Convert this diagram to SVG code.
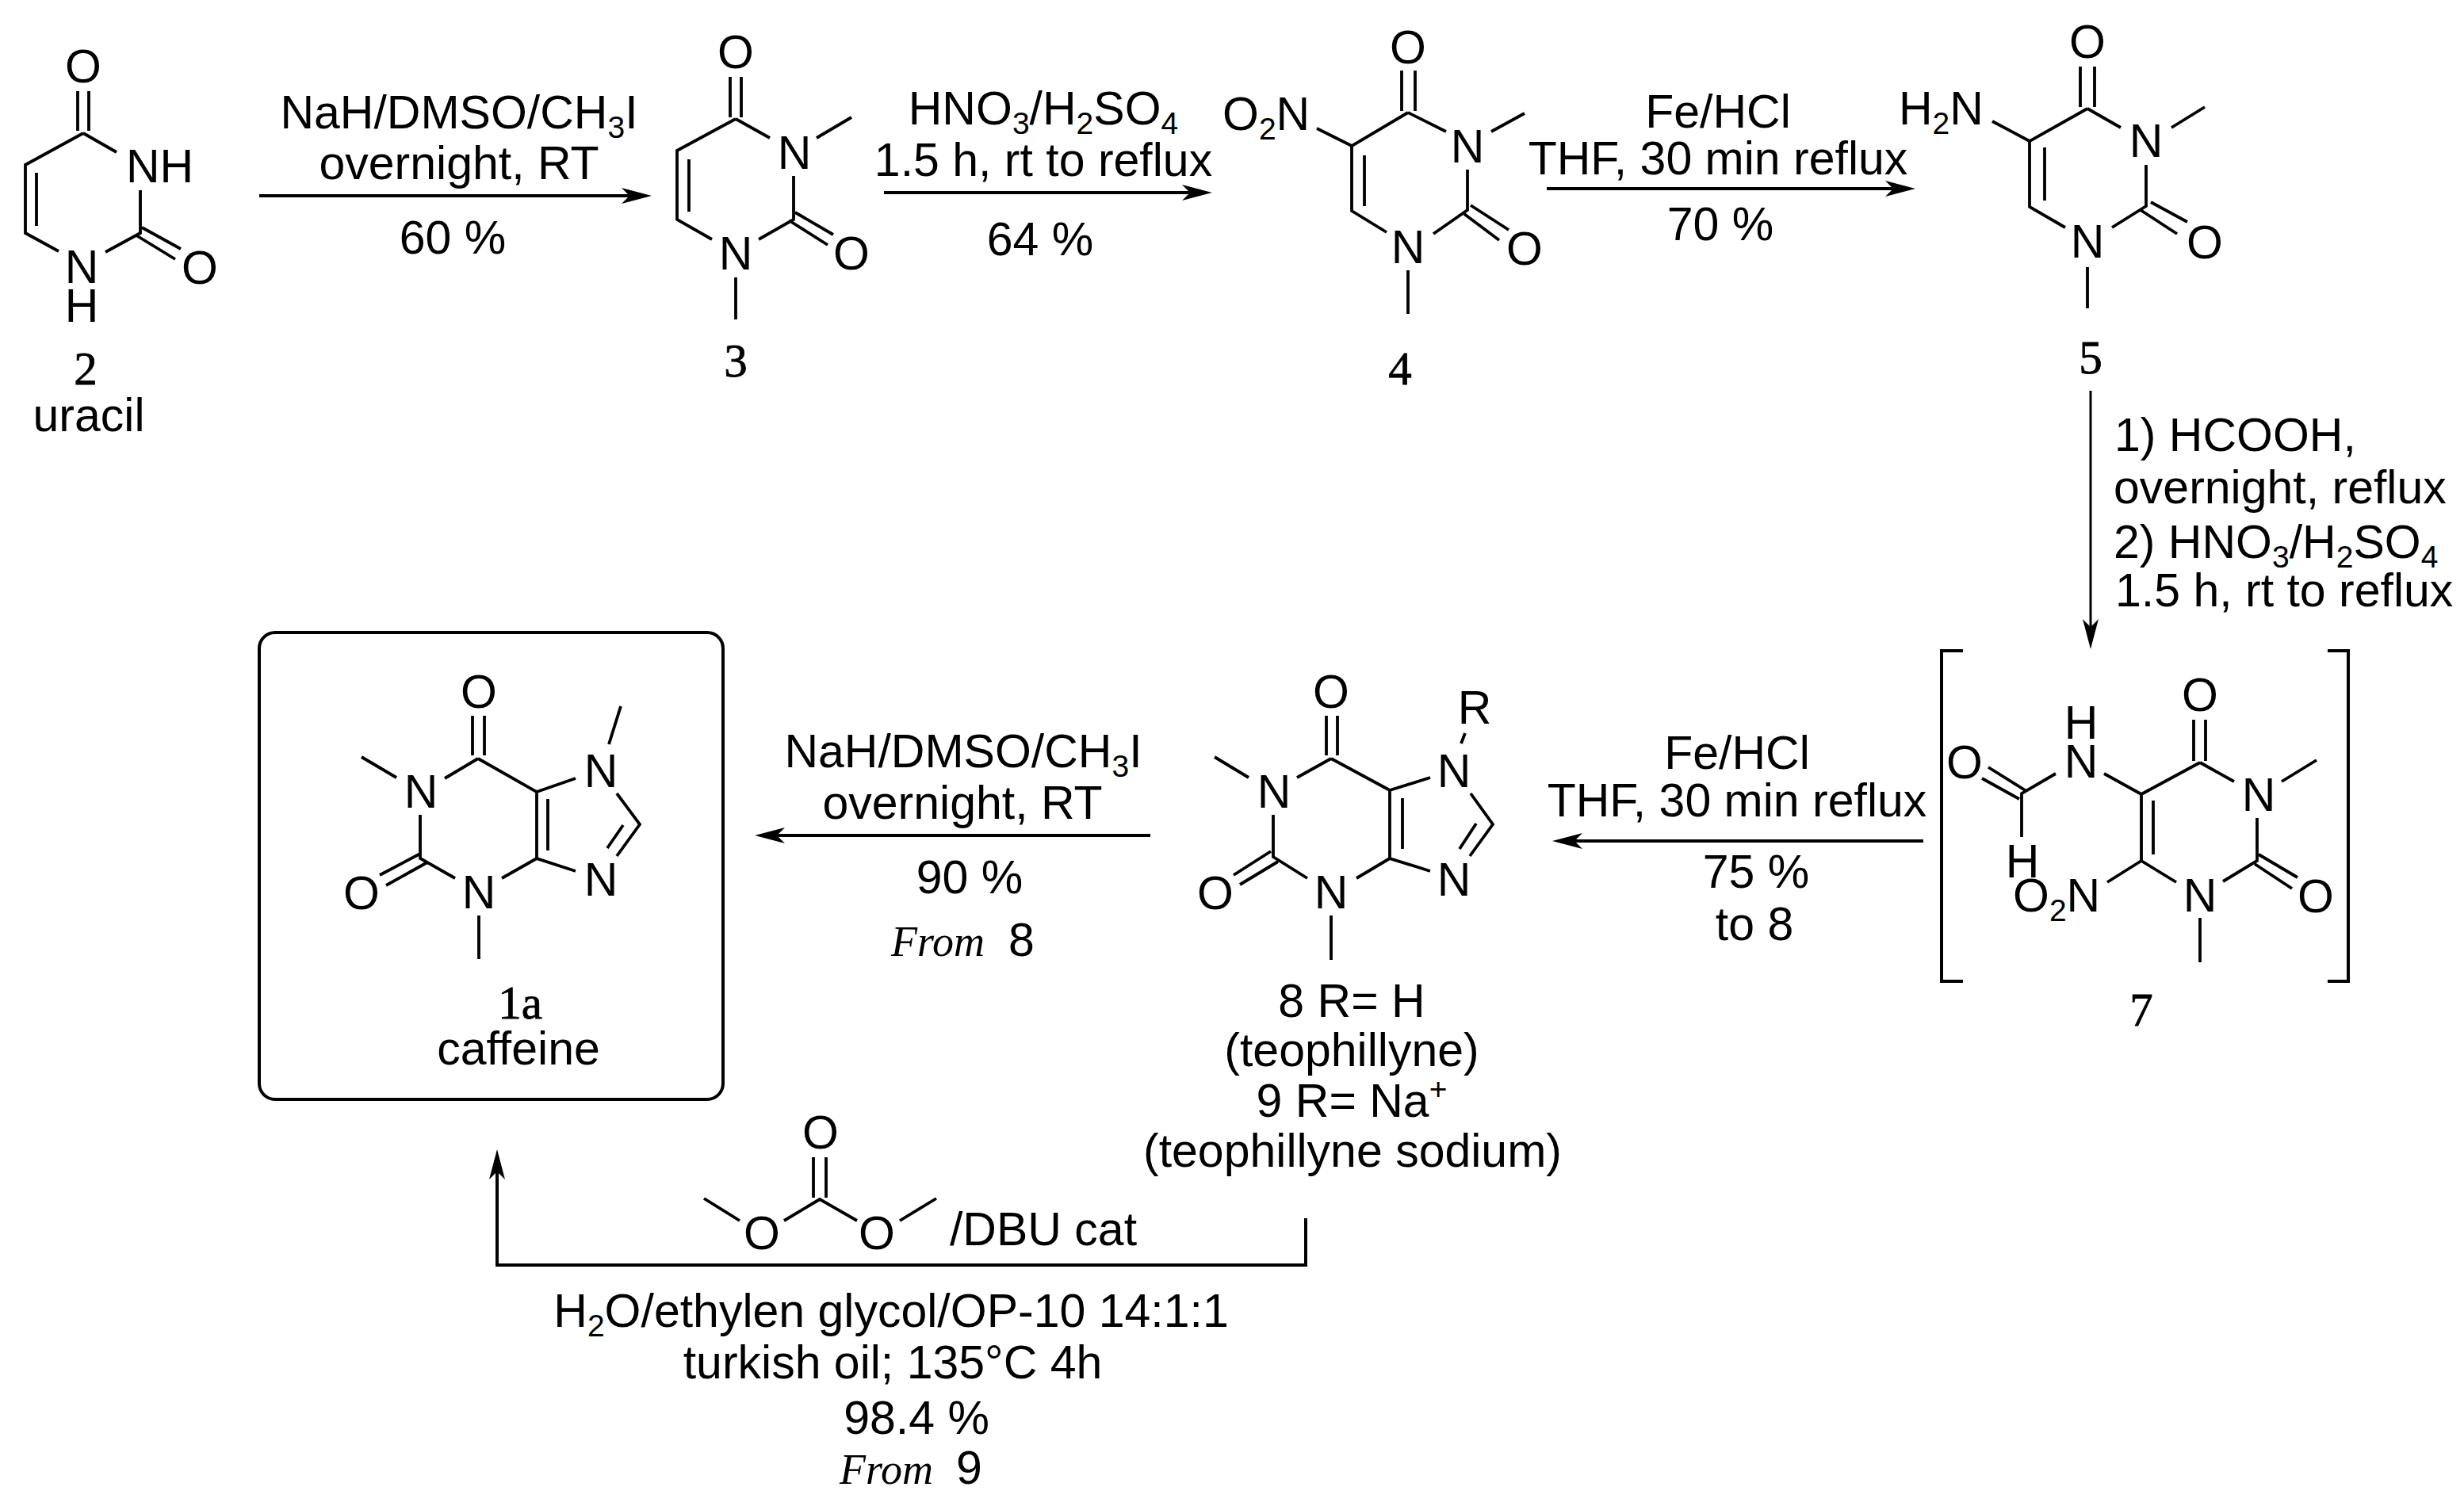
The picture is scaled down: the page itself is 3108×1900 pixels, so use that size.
<svg xmlns="http://www.w3.org/2000/svg" width="3108" height="1900" viewBox="0 0 3108 1900">
<style>
text{font-family:"Liberation Sans",Arial,sans-serif;font-size:59px;fill:#000;text-anchor:middle}
.s{font-family:"Liberation Serif","Times New Roman",serif;stroke:#000;stroke-width:.8}
.i{font-family:"Liberation Serif","Times New Roman",serif;font-style:italic;font-size:54px}
.l{text-anchor:start}
.b{fill:none;stroke:#000;stroke-width:3.8}
.c{fill:none;stroke:#000;stroke-width:4}
.sub{font-size:39px}
</style>
<defs>
<marker id="ah" markerUnits="userSpaceOnUse" viewBox="0 0 38 20" markerWidth="38" markerHeight="20" refX="10" refY="10" orient="auto"><path d="M0 0L38 10L0 20L10 10Z" fill="#000"/></marker>
</defs>
<rect width="3108" height="1900" fill="#fff"/>
<g id="connectors">
<path class="c" marker-end="url(#ah)" d="M327 247H794"/>
<path class="c" marker-end="url(#ah)" d="M1115 243H1501"/>
<path class="c" marker-end="url(#ah)" d="M1951 238H2388"/>
<path class="c" style="stroke-width:3" marker-end="url(#ah)" d="M2637 493V791"/>
<path class="c" marker-end="url(#ah)" d="M2426 1061H1986"/>
<path class="c" marker-end="url(#ah)" d="M1451 1054H980"/>
<path class="c" marker-end="url(#ah)" d="M1647 1537V1596H627V1478"/>
</g>
<g id="labels">
<text x="579" y="162">NaH/DMSO/CH<tspan class="sub" dy="12">3</tspan><tspan dy="-12">I</tspan></text>
<text x="579" y="226">overnight, RT</text>
<text x="571" y="320">60 %</text>
<text x="1316" y="157">HNO<tspan class="sub" dy="12">3</tspan><tspan dy="-12">/H</tspan><tspan class="sub" dy="12">2</tspan><tspan dy="-12">SO</tspan><tspan class="sub" dy="12">4</tspan></text>
<text x="1316" y="222">1.5 h, rt to reflux</text>
<text x="1312" y="322">64 %</text>
<text x="2167" y="161">Fe/HCl</text>
<text x="2167" y="220">THF, 30 min reflux</text>
<text x="2170" y="303">70 %</text>
<text class="l" x="2667" y="569">1) HCOOH,</text>
<text class="l" x="2666" y="635">overnight, reflux</text>
<text class="l" x="2666" y="704">2) HNO<tspan class="sub" dy="12">3</tspan><tspan dy="-12">/H</tspan><tspan class="sub" dy="12">2</tspan><tspan dy="-12">SO</tspan><tspan class="sub" dy="12">4</tspan></text>
<text class="l" x="2668" y="765">1.5 h, rt to reflux</text>
<text x="2191" y="970">Fe/HCl</text>
<text x="2191" y="1030">THF, 30 min reflux</text>
<text x="2215" y="1120">75 %</text>
<text x="2213" y="1186">to 8</text>
<text x="1215" y="968">NaH/DMSO/CH<tspan class="sub" dy="12">3</tspan><tspan dy="-12">I</tspan></text>
<text x="1214" y="1033">overnight, RT</text>
<text x="1223" y="1127">90 %</text>
<text class="i l" x="1124" y="1206">From</text>
<text class="l" x="1272" y="1206">8</text>
<text x="1316" y="1571">/DBU cat</text>
<text x="1124" y="1674">H<tspan class="sub" dy="12">2</tspan><tspan dy="-12">O/ethylen glycol/OP-10 14:1:1</tspan></text>
<text x="1126" y="1739">turkish oil; 135°C 4h</text>
<text x="1156" y="1809">98.4 %</text>
<text class="i l" x="1059" y="1872">From</text>
<text class="l" x="1206" y="1872">9</text>
</g>
<g id="n2">
<path class="b" d="M98 115V165M112 115V165M105 168L32 208V294L74 317M105 168L147 192M177 240V294L133 318M172 297L221 327M179 287L228 314M46 218V285"/>
<text x="105" y="104">O</text><text class="l" x="159" y="230">NH</text><text x="103" y="357">N</text><text x="103" y="406">H</text><text x="252" y="358">O</text>
<text class="s" x="108" y="485">2</text><text x="112" y="544">uracil</text>
</g>
<g id="n3">
<path class="b" d="M921 97V148M935 97V148M928 150L854 190V277L898 302M869 201V267M928 150L971 174M1030 174L1074 148M1001 222V277L957 302M1003 268L1051 296M995 278L1044 309M928 350V403"/>
<text x="928" y="86">O</text><text x="1002" y="213">N</text><text x="928" y="340">N</text><text x="1074" y="340">O</text>
<text class="s" x="928" y="475">3</text>
</g>
<g id="n4">
<path class="b" d="M1768 89V140M1785 89V140M1776 142L1705 184V266L1749 293M1721 196V260M1661 162L1705 184M1776 142L1824 166M1881 166L1923 143M1851 214V265L1808 295M1855 259L1903 290M1847 270L1891 303M1776 341V396"/>
<text x="1776" y="80">O</text>
<text class="l" x="1542" y="164">O<tspan class="sub" dy="12">2</tspan><tspan dy="-12">N</tspan></text>
<text x="1851" y="205">N</text><text x="1776" y="332">N</text><text x="1923" y="334">O</text>
<text class="s" x="1766" y="485">4</text>
</g>
<g id="n5">
<path class="b" d="M2624 84V135M2642 84V135M2633 137L2560 178V261L2605 287M2579 186V253M2513 153L2560 178M2633 137L2675 161M2739 161L2781 135M2707 208V260L2664 287M2713 255L2759 280M2700 265L2746 295M2633 337V389"/>
<text x="2633" y="73">O</text>
<text class="l" x="2395" y="157">H<tspan class="sub" dy="12">2</tspan><tspan dy="-12">N</tspan></text>
<text x="2707" y="198">N</text><text x="2633" y="325">N</text><text x="2781" y="326">O</text>
<text class="s" x="2637" y="471">5</text>
</g>
<g id="n7">
<path class="b" style="stroke-width:4" d="M2476 821H2449V1238H2476M2936 821H2962V1238H2936"/>
<path class="b" d="M2767 908V960M2782 908V960M2775 962L2701 1002V1086L2745 1113M2716 1010V1078M2775 962L2818 986M2878 986L2922 959M2847 1032V1086L2804 1112M2849 1078L2898 1107M2844 1090L2891 1121M2775 1158V1214M2701 1002L2654 976M2593 976L2550 1001V1056M2556 998L2508 968M2547 1008L2500 982M2701 1086L2658 1113"/>
<text x="2775" y="897">O</text><text x="2849" y="1023">N</text><text x="2775" y="1150">N</text><text x="2921" y="1151">O</text>
<text x="2625" y="932">H</text><text x="2625" y="981">N</text><text x="2478" y="982">O</text><text x="2551" y="1107">H</text>
<text class="l" x="2539" y="1150">O<tspan class="sub" dy="12">2</tspan><tspan dy="-12">N</tspan></text>
<text class="s" x="2701" y="1294">7</text>
</g>
<g id="n8">
<path class="b" d="M1673 903V953M1687 903V953M1679 957L1753 997V1083L1804 1099M1769 1007V1071M1679 957L1636 981M1575 981L1532 955M1606 1028V1081L1649 1108M1711 1108L1753 1083M1603 1074L1556 1104M1612 1087L1564 1116M1679 1155V1211M1753 997L1804 981M1843 938L1848 925M1855 1001L1883 1040L1854 1080M1862 1039L1841 1071"/>
<text x="1679" y="893">O</text><text x="1860" y="913">R</text><text x="1834" y="993">N</text><text x="1607" y="1019">N</text><text x="1679" y="1146">N</text><text x="1834" y="1130">N</text><text x="1533" y="1147">O</text>
<text x="1705" y="1283">8 R= H</text>
<text x="1705" y="1345">(teophillyne)</text>
<text x="1705" y="1409">9 R= Na<tspan class="sub" dy="-22">+</tspan></text>
<text x="1706" y="1472">(teophillyne sodium)</text>
</g>
<g id="n1a">
<rect x="327" y="798" width="585" height="589" rx="20" fill="none" stroke="#000" stroke-width="4"/>
<path class="b" d="M596 903V953M611 903V953M603 957L677 999V1083L726 1099M691 1008V1073M603 957L561 982M500 981L456 955M530 1028V1083L574 1108M633 1108L677 1083M530 1077L479 1104M539 1088L487 1117M604 1155V1210M677 999L726 982M768 939L783 891M778 1001L807 1040L778 1080M786 1041L766 1070"/>
<text x="604" y="893">O</text><text x="758" y="993">N</text><text x="531" y="1019">N</text><text x="604" y="1146">N</text><text x="758" y="1130">N</text><text x="456" y="1147">O</text>
<text class="s" x="656" y="1285">1a</text><text x="654" y="1343">caffeine</text>
</g>
<g id="dmc">
<path class="b" d="M1026 1460V1511M1042 1460V1511M989 1540L1034 1513L1081 1540M933 1540L888 1512M1135 1540L1181 1512"/>
<text x="1035" y="1449">O</text><text x="961" y="1576">O</text><text x="1106" y="1576">O</text>
</g>
</svg>
